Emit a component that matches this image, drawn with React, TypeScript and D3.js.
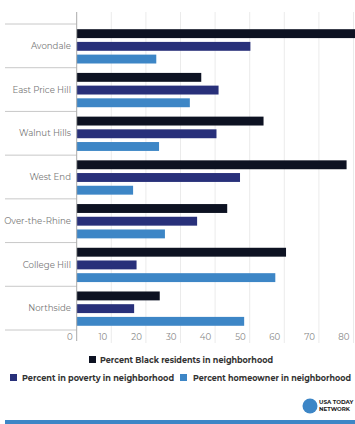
import React from "react";
import * as d3 from "d3";

const categories = ["Avondale", "East Price Hill", "Walnut Hills", "West End", "Over-the-Rhine", "College Hill", "Northside"];
const blackPct = [82, 36, 54, 78, 43.5, 60.5, 24];
const povertyPct = [50.2, 41, 40.4, 47.2, 34.8, 17.3, 16.6];
const homeownerPct = [23, 32.7, 23.8, 16.3, 25.5, 57.4, 48.4];
const seriesNames = ["Percent Black residents in neighborhood", "Percent in poverty in neighborhood", "Percent homeowner in neighborhood"];
const seriesColors = ["#0d1222", "#28307a", "#3d86c6"];
const ticks = [0, 10, 20, 30, 40, 50, 60, 70, 80];

export default function App() {
  const W = 355, H = 424;
  const x0 = 76.7;
  const x = d3.scaleLinear().domain([0, 80]).range([x0, x0 + 8 * 34.6]);
  const y = d3.scaleBand().domain(categories).range([24, 330]);
  const series = [blackPct, povertyPct, homeownerPct];
  const inner = d3.scaleBand().domain(["0", "1", "2"]).range([5.2, 39.5]).paddingInner(0.3);
  const font = "Montserrat, 'Open Sans', 'DejaVu Sans', sans-serif";
  return (
    <svg width={W} height={H} style={{ position: "absolute", left: 0, top: 0 }} fontFamily={font}>
      <rect width={W} height={H} fill="#fff" />
      {ticks.slice(1).map((t) => (
        <line key={t} x1={x(t)} x2={x(t)} y1={12} y2={343} stroke="#ebebeb" strokeWidth={1} />
      ))}
      {categories.concat(["__end"]).map((c, i) => {
        const yy = i < categories.length ? (y(c) as number) : 330;
        return <line key={c} x1={5} x2={x0} y1={yy} y2={yy} stroke="#c8c8c8" strokeWidth={1} />;
      })}
      {categories.map((c, i) => (
        <g key={c}>
          {series.map((s, j) => (
            <rect
              key={j}
              x={x0}
              y={(y(c) as number) + (inner(String(j)) as number)}
              width={Math.max(0, x(s[i]) - x0)}
              height={inner.bandwidth()}
              fill={seriesColors[j]}
            />
          ))}
          <text x={71} y={(y(c) as number) + y.bandwidth() / 2 + 3.2} textAnchor="end" fontSize={8.6} fill="#777">
            {c}
          </text>
        </g>
      ))}
      <line x1={x0} x2={x0} y1={12} y2={341} stroke="#aaa" strokeWidth={1} />
      {ticks.map((t) => (
        <text key={t} x={x(t) - 4} y={340} textAnchor="end" fontSize={8.6} fill="#888">
          {t}
        </text>
      ))}
      <g fontSize={8.2} fontWeight={700} fill="#333">
        <rect x={89} y={356} width={7} height={7} fill={seriesColors[0]} />
        <text x={100} y={363} textLength={173} lengthAdjust="spacingAndGlyphs">{seriesNames[0]}</text>
        <rect x={10} y={374} width={7} height={7} fill={seriesColors[1]} />
        <text x={22} y={381} textLength={152} lengthAdjust="spacingAndGlyphs">{seriesNames[1]}</text>
        <rect x={180} y={374} width={7} height={7} fill={seriesColors[2]} />
        <text x={193} y={381} textLength={158} lengthAdjust="spacingAndGlyphs">{seriesNames[2]}</text>
      </g>
      <circle cx={310} cy={406} r={7.5} fill="#3d86c6" />
      <g fontSize={5.6} fontWeight={700} fill="#222">
        <text x={319} y={404}>USA TODAY</text>
        <text x={319} y={410.5}>NETWORK</text>
      </g>
      <rect x={5} y={420} width={350} height={4} fill="#3d86c6" />
    </svg>
  );
}
